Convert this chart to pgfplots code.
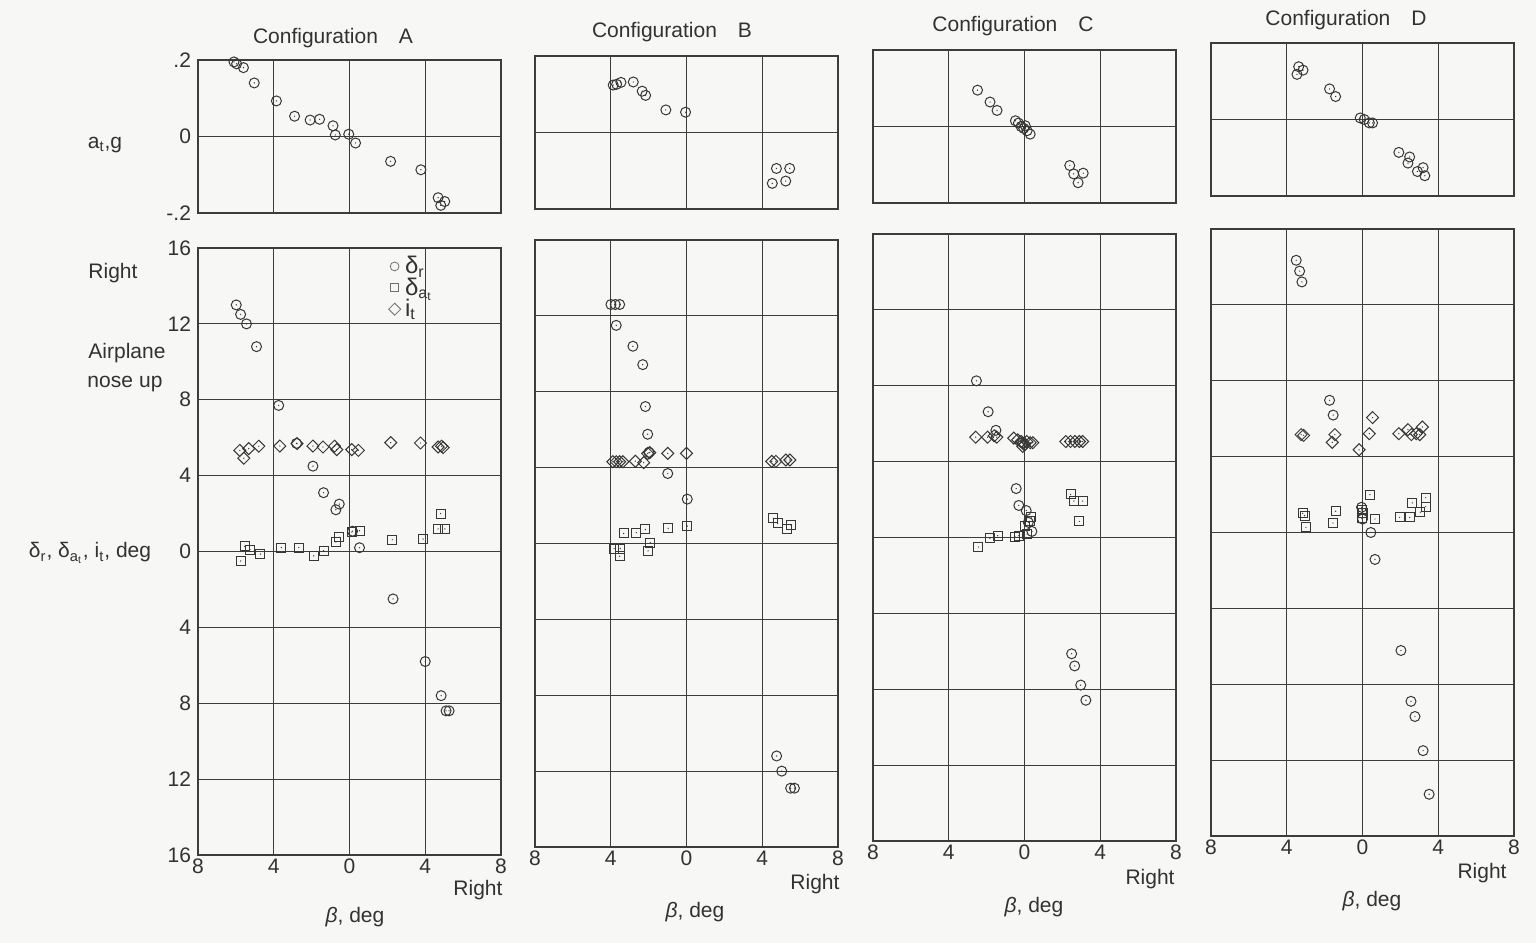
\documentclass[border=0pt]{standalone}
\usepackage{fontspec}
\setmainfont{Liberation Sans}
\usepackage{pgfplots}
\pgfplotsset{compat=1.18}
\definecolor{bgcol}{RGB}{247,247,245}
\definecolor{linecol}{RGB}{60,60,58}
\definecolor{markcol}{RGB}{55,55,53}
\definecolor{legcol}{RGB}{110,110,108}
\definecolor{txtcol}{RGB}{50,50,48}
\newcommand{\tfont}{\fontsize{10.5}{12}\selectfont}
\pgfdeclareplotmark{cdot}{%
  \pgfpathcircle{\pgfpointorigin}{\pgfplotmarksize}\pgfusepathqstroke
  \pgfpathcircle{\pgfpointorigin}{0.35pt}\pgfusepathqfill}
\pgfdeclareplotmark{sdot}{%
  \pgfpathrectangle{\pgfpoint{-0.9\pgfplotmarksize}{-0.9\pgfplotmarksize}}{\pgfpoint{1.8\pgfplotmarksize}{1.8\pgfplotmarksize}}\pgfusepathqstroke
  \pgfpathcircle{\pgfpointorigin}{0.35pt}\pgfusepathqfill}
\pgfdeclareplotmark{ddot}{%
  \pgfpathmoveto{\pgfpoint{0pt}{1.2\pgfplotmarksize}}%
  \pgfpathlineto{\pgfpoint{1.2\pgfplotmarksize}{0pt}}%
  \pgfpathlineto{\pgfpoint{0pt}{-1.2\pgfplotmarksize}}%
  \pgfpathlineto{\pgfpoint{-1.2\pgfplotmarksize}{0pt}}%
  \pgfpathclose\pgfusepathqstroke
  \pgfpathcircle{\pgfpointorigin}{0.35pt}\pgfusepathqfill}
\pgfplotsset{
  base/.style={scale only axis, width=151.5pt, xmin=-8, xmax=8,
    xtick={-8,-4,0,4,8}, grid=major, major tick length=0pt,
    axis line style={linecol, line width=0.7pt},
    grid style={linecol, line width=0.6pt},
    tick label style={font=\tfont, text=txtcol},
    xticklabel style={yshift=1.5pt},
    /pgf/number format/assume math mode=true},
  toppanel/.style={base, height=76.5pt, ymin=-0.2, ymax=0.2,
    ytick={-0.2,0,0.2}, xticklabels={}, yticklabels={}},
  botpanel/.style={base, height=303.5pt, ymin=-16, ymax=16,
    ytick={-16,-12,-8,-4,0,4,8,12,16}, xticklabels={8,4,0,4,8}, yticklabels={}},
  pc/.style={only marks, mark=cdot, mark size=2.5pt,
    mark options={draw=markcol, fill=markcol, line width=0.5pt}},
  ps/.style={only marks, mark=sdot, mark size=2.5pt,
    mark options={draw=markcol, fill=markcol, line width=0.5pt}},
  pd/.style={only marks, mark=ddot, mark size=2.5pt,
    mark options={draw=markcol, fill=markcol, line width=0.5pt}},
}
\begin{document}
\begin{tikzpicture}
\fill[bgcol] (0,0) rectangle (768pt,471.5pt);
\useasboundingbox (0,0) rectangle (768pt,471.5pt);
% ---------------- Configuration A ----------------
\begin{axis}[toppanel, at={(99pt,365pt)}, anchor=south west, yticklabels={-.2,0,.2}]
\addplot[pc] coordinates {(-6.1,0.195) (-5.96,0.19) (-5.6,0.18) (-5.03,0.14) (-3.86,0.093) (-2.9,0.053) (-2.08,0.043) (-1.58,0.045) (-0.87,0.028) (-0.75,0.004) (-0.04,0.006) (0.32,-0.017) (2.17,-0.065) (3.77,-0.087) (4.68,-0.16) (5.03,-0.17) (4.82,-0.18)};
\end{axis}
\begin{axis}[botpanel, at={(99pt,44pt)}, anchor=south west,
  yticklabels={16,12,8,4,0,4,8,12,16},
  legend style={at={(0.62,0.997)}, anchor=north west, draw=none, fill=none,
    font=\fontsize{12}{12}\selectfont, text=txtcol, row sep=-3.5pt, inner sep=1pt},
  legend cell align=left]
\addplot[pc, legend image code/.code={\draw[legcol, line width=0.4pt] (0.22cm,0cm) circle (2.2pt);}] coordinates {(-5.98,13.0) (-5.75,12.5) (-5.44,12.0) (-4.91,10.8) (-3.74,7.7) (-2.8,5.7) (-1.93,4.5) (-1.37,3.1) (-0.54,2.5) (-0.72,2.2) (0.16,1.07) (0.53,0.2) (2.3,-2.5) (4.0,-5.8) (4.84,-7.6) (5.1,-8.4) (5.26,-8.4)};
\addlegendentry{δ\textsubscript{r}}
\addplot[ps, legend image code/.code={\draw[legcol, line width=0.4pt] (0.22cm,0cm)++(-2pt,-2pt) rectangle ++(4pt,4pt);}] coordinates {(-5.53,0.27) (-5.26,0.09) (-5.75,-0.5) (-4.70,-0.14) (-3.60,0.21) (-2.68,0.21) (-1.89,-0.23) (-1.37,0.05) (-0.72,0.5) (-0.53,0.75) (0.12,1.03) (0.53,1.10) (2.26,0.62) (3.89,0.66) (4.81,2.0) (4.68,1.19) (5.04,1.19)};
\addlegendentry{δ\textsubscript{a\textsubscript{t}}}
\addplot[pd, legend image code/.code={\draw[legcol, line width=0.4pt] (0.22cm,3pt)--++(3pt,-3pt)--++(-3pt,-3pt)--++(-3pt,3pt)--cycle;}] coordinates {(-5.79,5.33) (-5.32,5.42) (-5.58,4.92) (-4.79,5.55) (-3.68,5.56) (-2.77,5.69) (-1.93,5.56) (-1.40,5.51) (-0.79,5.55) (-0.67,5.37) (0.12,5.37) (0.47,5.33) (2.18,5.74) (3.75,5.72) (4.68,5.51) (4.86,5.55) (4.95,5.48)};
\addlegendentry{i\textsubscript{t}}
\end{axis}
% ---------------- Configuration B ----------------
\begin{axis}[toppanel, at={(267.5pt,367pt)}, anchor=south west]
\addplot[pc] coordinates {(-3.87,0.124) (-3.69,0.126) (-3.46,0.131) (-2.81,0.132) (-2.34,0.108) (-2.16,0.097) (-1.09,0.059) (-0.05,0.053) (4.75,-0.094) (5.45,-0.094) (4.53,-0.133) (5.24,-0.127)};
\end{axis}
\begin{axis}[botpanel, at={(267.5pt,48pt)}, anchor=south west]
\addplot[pc] coordinates {(-3.99,12.6) (-3.76,12.6) (-3.53,12.6) (-3.71,11.5) (-2.83,10.4) (-2.31,9.43) (-2.17,7.22) (-2.05,5.76) (-1.98,4.8) (-0.99,3.69) (0.04,2.34) (4.76,-11.2) (5.03,-12.0) (5.5,-12.9) (5.7,-12.9)};
\addplot[ps] coordinates {(-3.32,0.53) (-2.65,0.57) (-2.17,0.74) (-0.97,0.80) (0.04,0.92) (-3.82,-0.27) (-3.50,-0.27) (-3.53,-0.67) (-1.91,0.04) (-2.03,-0.39) (4.58,1.33) (4.81,1.06) (5.30,0.74) (5.51,0.98)};
\addplot[pd] coordinates {(-3.89,4.31) (-3.71,4.31) (-3.53,4.31) (-3.36,4.31) (-2.70,4.34) (-2.26,4.26) (-2.05,4.75) (-1.94,4.79) (-0.99,4.75) (0,4.75) (4.5,4.33) (4.72,4.33) (5.25,4.4) (5.46,4.4)};
\end{axis}
% ---------------- Configuration C ----------------
\begin{axis}[toppanel, at={(436.5pt,370pt)}, anchor=south west]
\addplot[pc] coordinates {(-2.48,0.095) (-1.82,0.064) (-1.45,0.042) (-0.48,0.015) (-0.32,0.009) (-0.18,0.0) (-0.04,-0.005) (0.14,-0.011) (0.30,-0.02) (0.04,0.002) (2.39,-0.102) (2.60,-0.124) (3.10,-0.122) (2.83,-0.147)};
\end{axis}
\begin{axis}[botpanel, at={(436.5pt,51pt)}, anchor=south west]
\addplot[pc] coordinates {(-2.54,8.26) (-1.92,6.63) (-1.51,5.65) (-0.44,2.58) (-0.30,1.69) (0.09,1.42) (0.39,0.32) (0.2,0.8) (-0.1,5.0) (2.49,-6.13) (2.65,-6.77) (2.97,-7.78) (3.24,-8.58)};
\addplot[ps] coordinates {(-2.43,-0.50) (-1.83,-0.04) (-1.42,0.09) (-0.50,0.04) (-0.30,0.09) (0.14,0.18) (0.04,0.62) (0.27,0.85) (0.36,1.07) (2.43,2.27) (2.61,1.92) (3.07,1.92) (2.90,0.85)};
\addplot[pd] coordinates {(-2.58,5.29) (-1.95,5.29) (-1.60,5.36) (-1.46,5.29) (-0.57,5.24) (-0.36,5.15) (-0.18,5.06) (-0.05,4.97) (0.12,5.06) (0.30,5.0) (0.44,5.0) (-0.09,4.8) (0,4.88) (2.18,5.06) (2.43,5.06) (2.66,5.06) (2.90,5.06) (3.07,5.06)};
\end{axis}
% ---------------- Configuration D ----------------
\begin{axis}[toppanel, at={(605.5pt,373.5pt)}, anchor=south west]
\addplot[pc] coordinates {(-3.37,0.138) (-3.14,0.129) (-3.46,0.118) (-1.74,0.080) (-1.42,0.060) (-0.12,0.004) (0.09,0) (0.36,-0.009) (0.53,-0.009) (1.92,-0.086) (2.49,-0.098) (2.40,-0.114) (2.90,-0.136) (3.20,-0.126) (3.29,-0.147)};
\end{axis}
\begin{axis}[botpanel, at={(605.5pt,53.5pt)}, anchor=south west]
\addplot[pc] coordinates {(-3.50,14.35) (-3.32,13.78) (-3.2,13.21) (-1.74,6.97) (-1.55,6.19) (-0.05,1.33) (0,0.71) (0.44,0.0) (0.66,-1.42) (2.03,-6.22) (2.56,-8.9) (2.77,-9.7) (3.2,-11.5) (3.52,-13.8)};
\addplot[ps] coordinates {(-3.16,1.01) (-3.06,0.89) (-2.99,0.27) (-1.42,1.12) (-1.56,0.5) (0.39,2.0) (-0.04,1.19) (0.04,1.01) (-0.04,0.76) (0.66,0.71) (1.96,0.8) (2.49,0.8) (2.63,1.56) (3.06,1.07) (3.34,1.83) (3.34,1.37)};
\addplot[pd] coordinates {(-3.24,5.16) (-3.11,5.12) (-1.46,5.16) (-1.6,4.75) (-0.18,4.36) (0.36,5.21) (0.53,6.06) (1.92,5.21) (2.40,5.42) (2.58,5.16) (2.84,5.21) (3.02,5.16) (3.16,5.56)};
\end{axis}
% ---------------- Text ----------------
\begin{scope}[every node/.style={text=txtcol, font=\fontsize{10.5}{12}\selectfont, inner sep=0pt}]
\node at (166.5pt,452.5pt) {Configuration\hspace{1em}A};
\node at (336pt,455.5pt) {Configuration\hspace{1em}B};
\node at (506.5pt,458.5pt) {Configuration\hspace{1em}C};
\node at (673pt,461.5pt) {Configuration\hspace{1em}D};
\node at (52.5pt,399pt) {a\textsubscript{t},g};
\node at (56.5pt,335pt) {Right};
\node at (63.5pt,295pt) {Airplane};
\node at (62.5pt,279.5pt) {nose\hspace{0.3em}up};
\node at (45pt,195pt) {δ\textsubscript{r}, δ\textsubscript{a\textsubscript{t}}, i\textsubscript{t}, deg};
\node at (239pt,26.5pt) {Right};
\node at (407.5pt,29.5pt) {Right};
\node at (575pt,32pt) {Right};
\node at (741pt,35pt) {Right};
\node at (177.5pt,13pt) {\textit{β}, deg};
\node at (347.5pt,15.5pt) {\textit{β}, deg};
\node at (517pt,18pt) {\textit{β}, deg};
\node at (686pt,21pt) {\textit{β}, deg};
\end{scope}
\end{tikzpicture}
\end{document}
